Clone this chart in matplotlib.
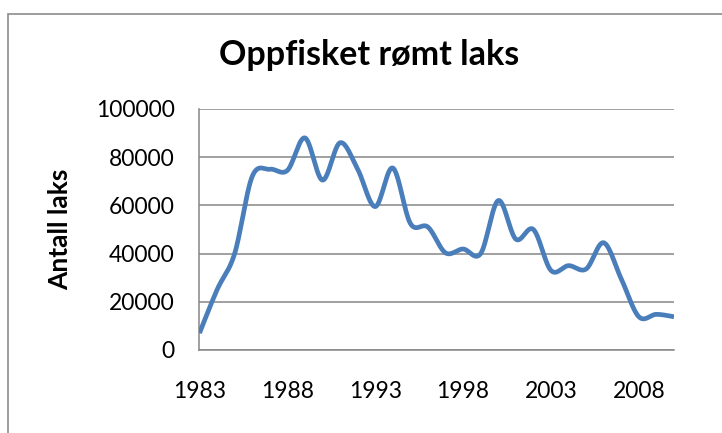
import numpy as np
import matplotlib.pyplot as plt
from matplotlib.patches import Rectangle

# data
years = list(range(1983, 2011))
fish = [7000, 25000, 40000, 72000, 75000, 74500, 88000, 70500, 86000, 75000,
        59500, 75500, 52500, 51000, 40300, 41900, 40000, 62000, 46000, 50000,
        33000, 35000, 33600, 44500, 29500, 13800, 14800, 13800]
tick_years = [1983, 1988, 1993, 1998, 2003, 2008]

title = "Oppfisket rømt laks"
ylabel = "Antall laks"


def smooth(x, y, n=30):
    # Excel-style smoothed line: Catmull-Rom segments as cubic Bezier curves
    x = np.asarray(x, float)
    y = np.asarray(y, float)
    px = np.concatenate([[x[0]], x, [x[-1]]])
    py = np.concatenate([[y[0]], y, [y[-1]]])
    t = np.linspace(0, 1, n)[:, None]
    xs, ys = [], []
    for i in range(1, len(px) - 2):
        p0 = np.array([px[i - 1], py[i - 1]])
        p1 = np.array([px[i], py[i]])
        p2 = np.array([px[i + 1], py[i + 1]])
        p3 = np.array([px[i + 2], py[i + 2]])
        c1 = p1 + (p2 - p0) / 6
        c2 = p2 - (p3 - p1) / 6
        pts = ((1 - t) ** 3) * p1 + 3 * ((1 - t) ** 2) * t * c1 \
            + 3 * (1 - t) * t ** 2 * c2 + t ** 3 * p2
        xs.append(pts[:, 0])
        ys.append(pts[:, 1])
    return np.concatenate(xs), np.concatenate(ys)


plt.rcParams["font.family"] = ["Lato", "DejaVu Sans"]

fig = plt.figure(figsize=(7.22, 4.33), dpi=100)
ax = fig.add_axes([0.2763, 0.1917, 0.6572, 0.5566])

# outer chart frame (partly cut off by the image edge)
fig.patches.append(Rectangle((8 / 722, -0.1), 1.2, 0.1 + (433 - 14) / 433,
                             transform=fig.transFigure, fill=False,
                             edgecolor="#8c8c8c", linewidth=1.2))

sx, sy = smooth(years, fish)
ax.plot(sx, sy, color="#4a7ebb", linewidth=3.4, solid_capstyle="butt", zorder=3)

ax.set_xlim(years[0], years[-1])
ax.set_ylim(0, 100000)
ax.set_yticks(range(0, 100001, 20000))
ax.set_xticks(tick_years)
ax.set_xticklabels([str(y) for y in tick_years])

ax.grid(axis="y", color="#868686", linewidth=1.1)
ax.set_axisbelow(True)
for s in ["top", "right"]:
    ax.spines[s].set_visible(False)
ax.spines["left"].set_color("#868686")
ax.spines["bottom"].set_color("#868686")
ax.spines["left"].set_linewidth(1.1)
ax.spines["bottom"].set_linewidth(1.1)
ax.tick_params(length=0, labelsize=16.5)
ax.tick_params(axis="y", pad=18)
ax.tick_params(axis="x", pad=22)

fig.text(60 / 722, 1 - 229.5 / 433, ylabel, fontsize=19, fontweight="bold",
         rotation=90, ha="center", va="center")
fig.text(369.5 / 722, 1 - 55 / 433, title, fontsize=24.5, fontweight="bold",
         ha="center", va="center")

fig.savefig("out.png", dpi=100)
